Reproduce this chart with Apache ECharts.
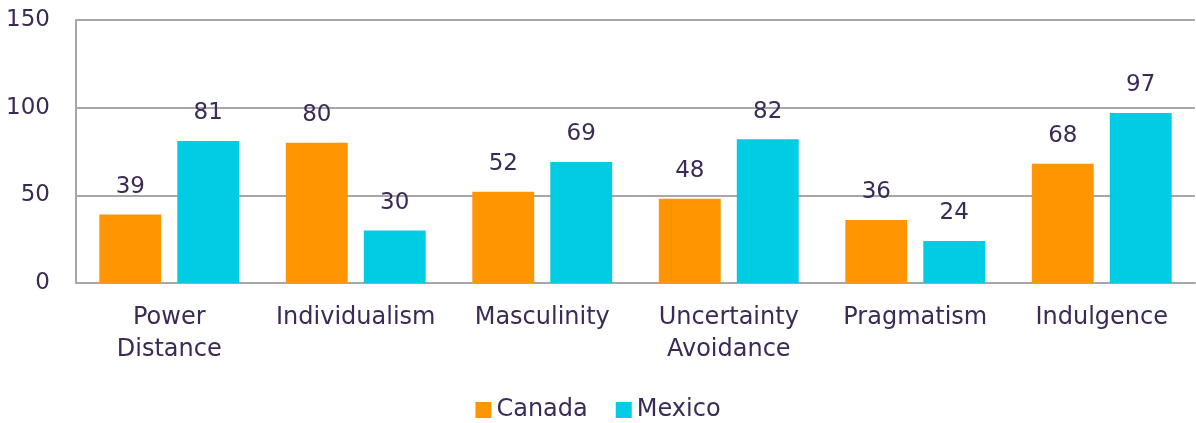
<!DOCTYPE html>
<html>
<head>
<meta charset="utf-8">
<script src="https://cdn.jsdelivr.net/npm/echarts@6/dist/echarts.min.js"></script>
<style>
  html, body { margin: 0; padding: 0; background: #fff; }
  #grafico { width: 1196px; height: 423px; }
</style>
</head>
<body>
<div id="grafico"></div>
<script>
var categorias = ["Power\nDistance", "Individualism", "Masculinity", "Uncertainty\nAvoidance", "Pragmatism", "Indulgence"];
var canada = [39, 80, 52, 48, 36, 68];
var mexico = [81, 30, 69, 82, 24, 97];
var ticksY = [0, 50, 100, 150];

var colorTexto = "#3b2a55";
var fuente = "DejaVu Sans";

var dom = document.getElementById("grafico");
var myChart = echarts.init(dom);
var option = {
    animation: false,
    color: ["#ff9500", "#00cde3"],
    textStyle: { fontFamily: fuente, color: colorTexto },
    grid: {
        left: 76,
        right: 1,
        top: 20,
        bottom: 140
    },
    legend: {
        data: ["Canada", "Mexico"],
        top: 393,
        left: "center",
        itemWidth: 16,
        itemHeight: 16,
        itemGap: 28,
        icon: "rect",
        textStyle: { fontSize: 24, color: colorTexto, fontFamily: fuente }
    },
    xAxis: {
        type: "category",
        data: categorias,
        axisLine: { lineStyle: { color: "#a6a6ab", width: 2 } },
        axisTick: { show: false },
        axisLabel: {
            interval: 0,
            margin: 19,
            fontSize: 24,
            lineHeight: 32,
            color: colorTexto,
            fontFamily: fuente
        }
    },
    yAxis: {
        type: "value",
        min: ticksY[0],
        max: ticksY[ticksY.length - 1],
        interval: 50,
        axisLine: { show: true, lineStyle: { color: "#a6a6ab", width: 2 } },
        axisTick: { show: false },
        splitLine: { lineStyle: { color: "#a6a6ab", width: 2 } },
        axisLabel: {
            margin: 26,
            fontSize: 23,
            padding: [5, 0, 0, 0],
            color: colorTexto,
            fontFamily: fuente
        }
    },
    series: [
        {
            name: "Canada",
            type: "bar",
            data: canada,
            barGap: "26%",
            barCategoryGap: "25%",
            label: {
                show: true,
                position: "top",
                distance: 16,
                fontSize: 23,
                color: colorTexto,
                fontFamily: fuente
            }
        },
        {
            name: "Mexico",
            type: "bar",
            data: mexico,
            barGap: "26%",
            barCategoryGap: "25%",
            label: {
                show: true,
                position: "top",
                distance: 16,
                fontSize: 23,
                color: colorTexto,
                fontFamily: fuente
            }
        }
    ]
};
myChart.setOption(option, true);
window.addEventListener("resize", function(){
    if(myChart != null && myChart != undefined){
        myChart.resize();
    }
});
</script>
</body>
</html>
